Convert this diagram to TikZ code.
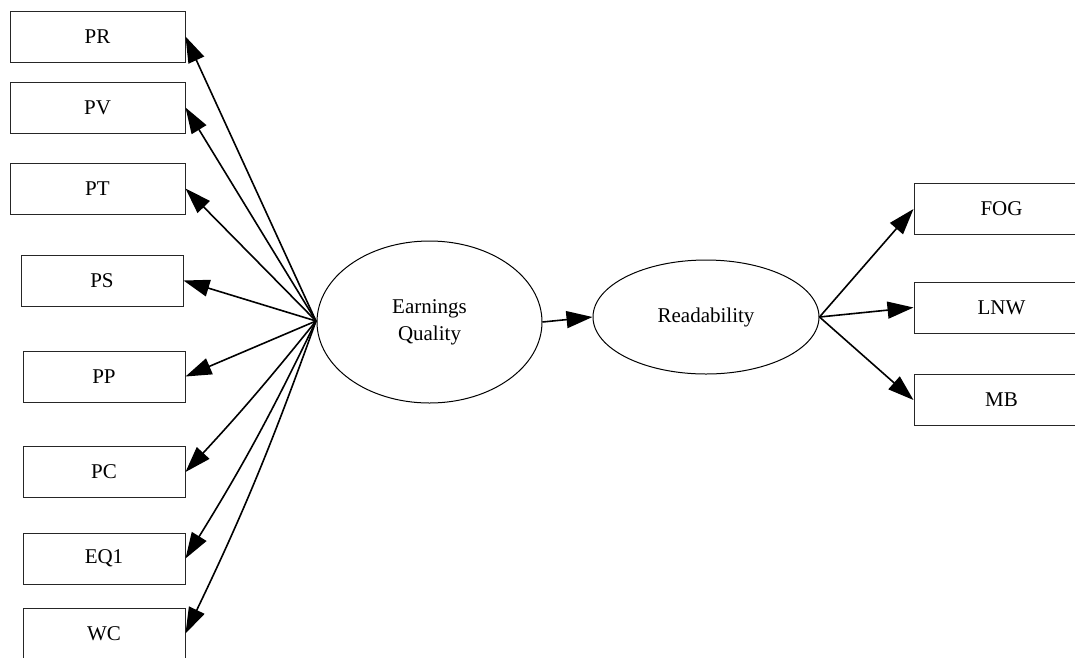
\documentclass[tikz,border=0pt]{standalone}
\usepackage{fontspec}
\setmainfont{Liberation Serif}
\usetikzlibrary{shapes.geometric,arrows.meta}
\tikzset{
  obsbox/.style={draw=black!85, line width=1pt, rectangle, inner sep=0pt,
    minimum height=51pt, font=\fontsize{21}{25}\selectfont},
  wbox/.style={obsbox, minimum width=175pt},
  nbox/.style={obsbox, minimum width=162pt},
  latent/.style={draw=black, line width=1pt, ellipse, inner sep=0pt, align=center,
    font=\fontsize{21}{27}\selectfont},
  conn/.style={line width=1.6pt, -{Triangle[length=26pt,width=17pt]}}
}
\begin{document}
\begin{tikzpicture}[x=1pt,y=-1pt]
\useasboundingbox (0,0) rectangle (1075,657);
\node[wbox] (PR) at (97.5,36.5) {PR};
\node[wbox] (PV) at (97.5,107.5) {PV};
\node[wbox] (PT) at (97.5,188.5) {PT};
\node[nbox] (PS) at (102,280.5) {PS};
\node[nbox] (PP) at (104,376.5) {PP};
\node[nbox] (PC) at (104,472) {PC};
\node[nbox] (EQ1) at (104,558.5) {EQ1};
\node[nbox] (WC) at (104,633.5) {WC};
\node[latent, minimum width=225pt, minimum height=162pt] (EQ) at (429.5,322) {Earnings\\Quality};
\node[latent, minimum width=226pt, minimum height=114pt] (RD) at (706,317) {Readability};
\node[wbox] (FOG) at (1001.5,209) {FOG};
\node[wbox] (LNW) at (1001.5,307.5) {LNW};
\node[wbox] (MB) at (1001.5,400) {MB};
\coordinate (src) at (316,321);
\draw[conn] (src) -- (PR.east);
\draw[conn] (src) -- (PV.east);
\draw[conn] (src) -- (PT.east);
\draw[conn] (src) -- (PS.east);
\draw[conn] (src) -- (PP.east);
\draw[conn] (src) to[bend left=2] (PC.east);
\draw[conn] (src) to[bend left=3] (EQ1.east);
\draw[conn] (src) to[bend left=3] (WC.east);
\draw[conn] (EQ.east) -- (RD.west);
\draw[conn] (RD.east) -- (FOG.west);
\draw[conn] (RD.east) -- (LNW.west);
\draw[conn] (RD.east) -- (MB.west);
\end{tikzpicture}
\end{document}
